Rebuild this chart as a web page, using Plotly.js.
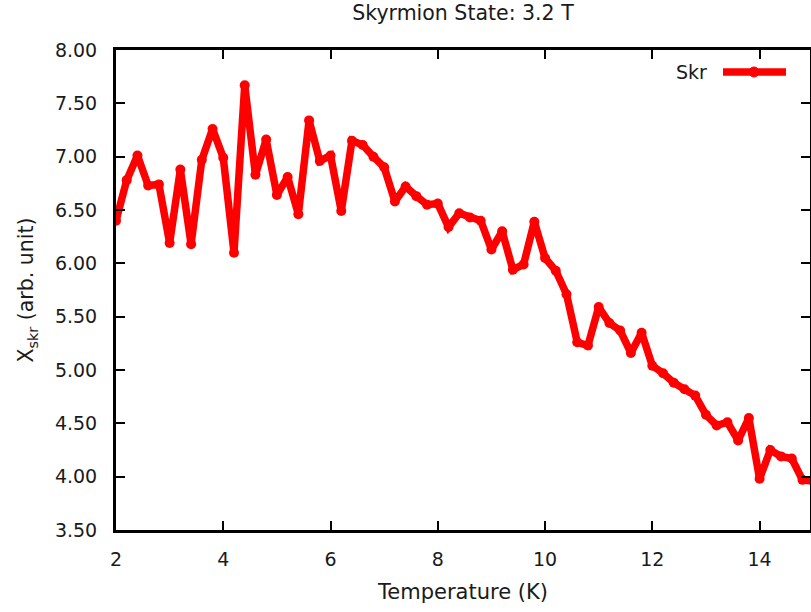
<!DOCTYPE html>
<html>
<head>
<meta charset="utf-8">
<script src="https://cdn.plot.ly/plotly-3.0.1.min.js"></script>
<style>
  html, body { margin: 0; padding: 0; background: #fff; overflow: hidden; }
  #chart { width: 811px; height: 612px; }
</style>
</head>
<body>
<div id="chart"></div>
<script>
// Skyrmion susceptibility vs temperature at 3.2 T
const temperature = [
  2.0, 2.2, 2.4, 2.6, 2.8, 3.0, 3.2, 3.4, 3.6, 3.8,
  4.0, 4.2, 4.4, 4.6, 4.8, 5.0, 5.2, 5.4, 5.6, 5.8,
  6.0, 6.2, 6.4, 6.6, 6.8, 7.0, 7.2, 7.4, 7.6, 7.8,
  8.0, 8.2, 8.4, 8.6, 8.8, 9.0, 9.2, 9.4, 9.6, 9.8,
  10.0, 10.2, 10.4, 10.6, 10.8, 11.0, 11.2, 11.4, 11.6, 11.8,
  12.0, 12.2, 12.4, 12.6, 12.8, 13.0, 13.2, 13.4, 13.6, 13.8,
  14.0, 14.2, 14.4, 14.6, 14.8, 15.0
];
const chiSkr = [
  6.40, 6.78, 7.01, 6.73, 6.74, 6.19, 6.88, 6.18, 6.97, 7.26,
  6.99, 6.10, 7.67, 6.83, 7.16, 6.64, 6.81, 6.46, 7.34, 6.96,
  7.01, 6.49, 7.15, 7.11, 7.00, 6.90, 6.58, 6.72, 6.63, 6.55,
  6.56, 6.34, 6.47, 6.43, 6.40, 6.13, 6.30, 5.94, 5.99, 6.39,
  6.05, 5.93, 5.71, 5.26, 5.23, 5.59, 5.44, 5.37, 5.16, 5.35,
  5.04, 4.97, 4.88, 4.82, 4.76, 4.58, 4.48, 4.51, 4.34, 4.55,
  3.98, 4.25, 4.19, 4.17, 3.97, 3.96
];
const yTicks = [3.5, 4.0, 4.5, 5.0, 5.5, 6.0, 6.5, 7.0, 7.5, 8.0];
const xTicks = [2, 4, 6, 8, 10, 12, 14];
const seriesName = 'Skr';

const FONT = 'DejaVu Sans, sans-serif';
const INK = '#1a1a1a';
const RED = '#ff0000';

const axisCommon = {
  showline: true, linecolor: '#000', linewidth: 3,
  ticks: 'inside', ticklen: 9, tickwidth: 2, tickcolor: '#000',
  mirror: 'ticks', showgrid: false, zeroline: false,
  tickfont: { family: FONT, size: 19, color: INK },
  automargin: false
};

const trace = {
  x: temperature, y: chiSkr, name: seriesName,
  type: 'scatter', mode: 'lines+markers',
  line: { color: RED, width: 7.5 },
  marker: { color: RED, size: 10, symbol: 'circle' },
  showlegend: false, cliponaxis: true
};

// Key drawn as text followed by a line sample with a marker (gnuplot style)
const keyY = 1 - (72 - 50) / 480;
const layout = {
  width: 811, height: 612,
  margin: { l: 116, r: 1, t: 50, b: 82 },
  paper_bgcolor: '#fff', plot_bgcolor: '#fff',
  font: { family: FONT, color: INK },
  title: {
    text: 'Skyrmion State: 3.2 T',
    font: { family: FONT, size: 20.5, color: INK },
    x: 0.5, xref: 'paper', y: 1 - 13 / 612, yanchor: 'middle'
  },
  xaxis: Object.assign({}, axisCommon, {
    range: [2, 14.94],
    tickvals: xTicks, ticktext: xTicks.map(String),
    ticklabelstandoff: 10,
    title: { text: 'Temperature (K)', font: { family: FONT, size: 21, color: INK }, standoff: 16 }
  }),
  yaxis: Object.assign({}, axisCommon, {
    range: [3.5, 8.0],
    tickvals: yTicks, ticktext: yTicks.map(v => v.toFixed(2)),
    ticklabelstandoff: 12,
    title: { text: 'X<sub>skr</sub> (arb. unit)', font: { family: FONT, size: 20.5, color: INK }, standoff: 16 }
  }),
  annotations: [{
    xref: 'paper', yref: 'paper',
    x: (709 - 116) / 694, y: keyY,
    xanchor: 'right', yanchor: 'middle',
    text: seriesName, showarrow: false,
    font: { family: FONT, size: 19, color: INK }
  }],
  shapes: [
    {
      type: 'line', xref: 'paper', yref: 'paper',
      x0: (723 - 116) / 694, x1: (786 - 116) / 694, y0: keyY, y1: keyY,
      line: { color: RED, width: 7.5 }
    },
    {
      type: 'circle', xref: 'paper', yref: 'paper',
      xsizemode: 'pixel', ysizemode: 'pixel',
      xanchor: (754 - 116) / 694, yanchor: keyY,
      x0: -5, x1: 5, y0: -5, y1: 5,
      fillcolor: RED, line: { color: RED, width: 1 }
    }
  ]
};

Plotly.newPlot('chart', [trace], layout, { staticPlot: true, displayModeBar: false });
</script>
</body>
</html>
